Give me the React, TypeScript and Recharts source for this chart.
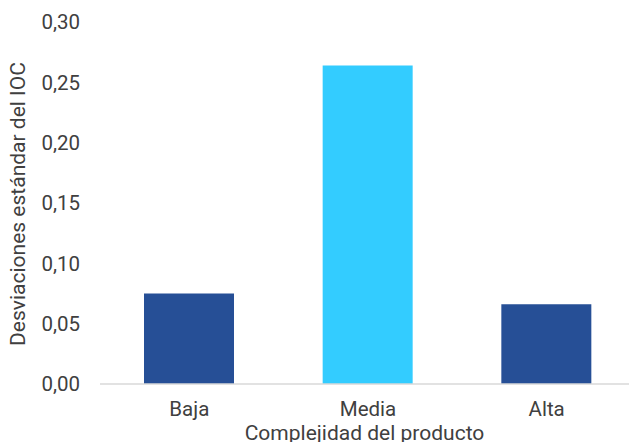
import React from 'react';
import { BarChart, Bar, XAxis, YAxis, Cell, Label } from 'recharts';

const categories = ['Baja', 'Media', 'Alta'];
const values = [0.075, 0.264, 0.066];
const barColors = ['#264F96', '#33CCFF', '#264F96'];
const yTicks = [0, 0.05, 0.1, 0.15, 0.2, 0.25, 0.3];

const data = categories.map((name, i) => ({ name, value: values[i] }));

const fmt = (v: number) => v.toFixed(2).replace('.', ',');
const textColor = '#404040';
const font = 'Roboto, sans-serif';

const YTitle = (props: any) => {
  const { viewBox } = props;
  const cx = 18;
  const cy = viewBox.y + viewBox.height / 2 + 1;
  return (
    <text
      x={cx}
      y={cy}
      transform={`rotate(-90, ${cx}, ${cy})`}
      textAnchor="middle"
      dominantBaseline="central"
      fill={textColor}
      fontSize={21}
      fontFamily={font}
    >
      Desviaciones estándar del IOC
    </text>
  );
};

export default function App() {
  return (
    <div style={{ position: 'absolute', left: 0, top: 0, width: 629, height: 442, background: '#fff', overflow: 'hidden' }}>
      <BarChart width={629} height={442} data={data} margin={{ top: 22, right: 0, bottom: 0, left: 0 }}>
        <XAxis
          dataKey="name"
          height={58}
          padding={{ left: 0, right: -7 }}
          tickSize={0}
          tickMargin={17}
          axisLine={{ stroke: '#d9d9d9', strokeWidth: 1.5 }}
          tick={{ fill: textColor, fontSize: 20.5, fontFamily: font }}
        >
          <Label
            value="Complejidad del producto"
            position="insideBottom"
            offset={2}
            fill={textColor}
            fontSize={21}
            fontFamily={font}
          />
        </XAxis>
        <YAxis
          width={100}
          domain={[0, 0.3]}
          ticks={yTicks}
          tickFormatter={fmt}
          interval={0}
          axisLine={false}
          tickSize={0}
          tickMargin={20}
          tick={{ fill: textColor, fontSize: 20.5, fontFamily: font }}
        >
          <Label content={<YTitle />} />
        </YAxis>
        <Bar dataKey="value" barSize={90} isAnimationActive={false}>
          {data.map((d, i) => (
            <Cell key={d.name} fill={barColors[i]} />
          ))}
        </Bar>
      </BarChart>
    </div>
  );
}
